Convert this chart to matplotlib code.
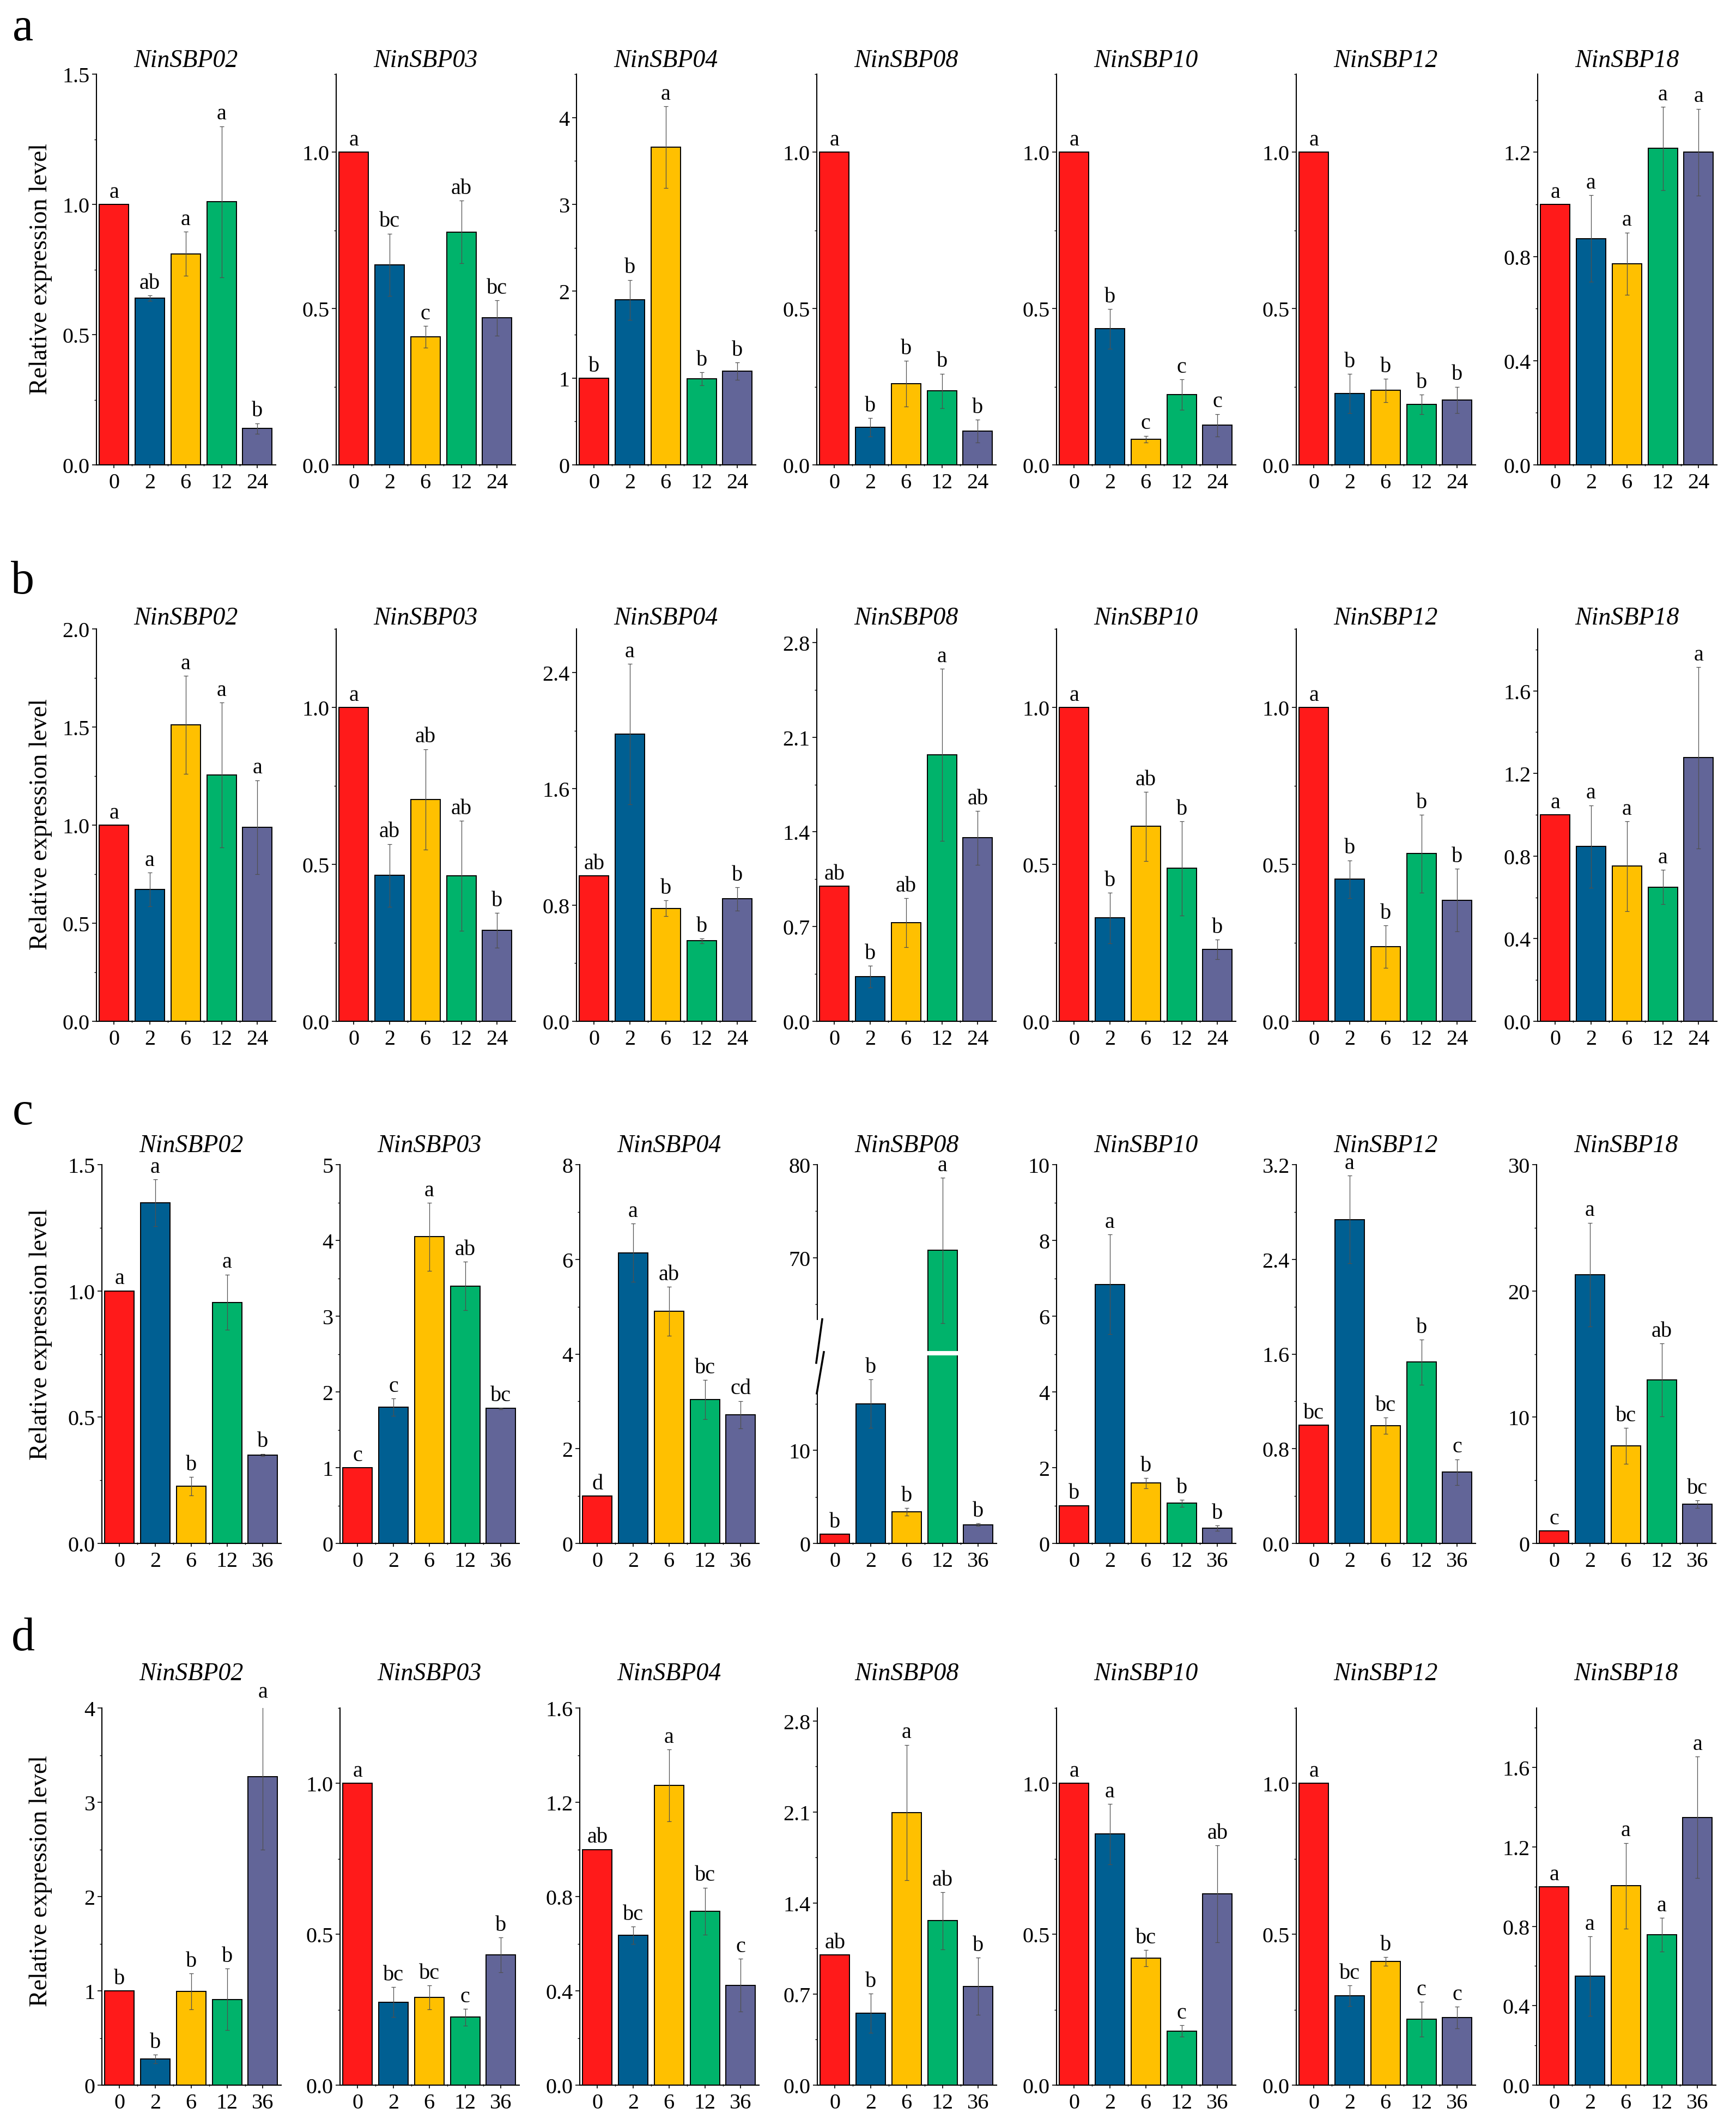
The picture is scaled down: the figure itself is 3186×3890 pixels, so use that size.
import matplotlib
matplotlib.use("Agg")
import matplotlib.pyplot as plt
from matplotlib.ticker import MultipleLocator, FormatStrFormatter, FixedLocator
from matplotlib.lines import Line2D

plt.rcParams['font.family'] = ['Liberation Serif', 'DejaVu Serif']

# ---------------- data ----------------
genes = ["NinSBP02", "NinSBP03", "NinSBP04", "NinSBP08", "NinSBP10", "NinSBP12", "NinSBP18"]
times_ab = ["0", "2", "6", "12", "24"]
times_cd = ["0", "2", "6", "12", "36"]
bar_colors = ["#FF1A1A", "#005F92", "#FFC000", "#00B36B", "#626598"]

a_mean = [[1.00, 0.64, 0.81, 1.01, 0.14],
          [1.00, 0.64, 0.41, 0.745, 0.47],
          [1.00, 1.90, 3.66, 0.99, 1.08],
          [1.00, 0.12, 0.26, 0.237, 0.108],
          [1.00, 0.435, 0.082, 0.225, 0.127],
          [1.00, 0.228, 0.238, 0.194, 0.208],
          [1.00, 0.869, 0.772, 1.215, 1.20]]
a_err = [[0, 0.01, 0.085, 0.29, 0.02],
         [0, 0.10, 0.035, 0.10, 0.056],
         [0, 0.23, 0.47, 0.075, 0.10],
         [0, 0.03, 0.073, 0.055, 0.037],
         [0, 0.064, 0.011, 0.049, 0.036],
         [0, 0.063, 0.037, 0.031, 0.042],
         [0, 0.167, 0.12, 0.16, 0.167]]
a_sig = [["a", "ab", "a", "a", "b"],
         ["a", "bc", "c", "ab", "bc"],
         ["b", "b", "a", "b", "b"],
         ["a", "b", "b", "b", "b"],
         ["a", "b", "c", "c", "c"],
         ["a", "b", "b", "b", "b"],
         ["a", "a", "a", "a", "a"]]

b_mean = [[1.00, 0.672, 1.51, 1.255, 0.989],
          [1.00, 0.465, 0.707, 0.464, 0.29],
          [1.00, 1.976, 0.777, 0.554, 0.842],
          [1.00, 0.331, 0.729, 1.969, 1.356],
          [1.00, 0.329, 0.621, 0.487, 0.229],
          [1.00, 0.453, 0.238, 0.534, 0.386],
          [1.00, 0.846, 0.751, 0.65, 1.276]]
b_err = [[0, 0.085, 0.25, 0.37, 0.24],
         [0, 0.10, 0.16, 0.175, 0.055],
         [0, 0.485, 0.055, 0.016, 0.08],
         [0, 0.08, 0.18, 0.635, 0.20],
         [0, 0.08, 0.11, 0.15, 0.031],
         [0, 0.06, 0.068, 0.124, 0.10],
         [0, 0.20, 0.217, 0.083, 0.44]]
b_sig = [["a", "a", "a", "a", "a"],
         ["a", "ab", "ab", "ab", "b"],
         ["ab", "a", "b", "b", "b"],
         ["ab", "b", "ab", "a", "ab"],
         ["a", "b", "ab", "b", "b"],
         ["a", "b", "b", "b", "b"],
         ["a", "a", "a", "a", "a"]]

c_mean = [[1.00, 1.349, 0.226, 0.955, 0.35],
          [1.00, 1.797, 4.048, 3.396, 1.783],
          [1.00, 6.14, 4.90, 3.04, 2.72],
          [1.00, 15.0, 3.4, 70.8, 2.0],
          [1.00, 6.84, 1.59, 1.06, 0.40],
          [1.00, 2.737, 0.995, 1.532, 0.601],
          [1.00, 21.3, 7.73, 12.94, 3.1]]
c_err = [[0, 0.092, 0.037, 0.11, 0.005],
         [0, 0.117, 0.45, 0.32, 0.01],
         [0, 0.62, 0.52, 0.41, 0.29],
         [0, 2.6, 0.4, 7.8, 0.15],
         [0, 1.32, 0.14, 0.09, 0.07],
         [0, 0.37, 0.07, 0.19, 0.11],
         [0, 4.1, 1.43, 2.9, 0.3]]
c_sig = [["a", "a", "b", "a", "b"],
         ["c", "c", "a", "ab", "bc"],
         ["d", "a", "ab", "bc", "cd"],
         ["b", "b", "b", "a", "b"],
         ["b", "a", "b", "b", "b"],
         ["bc", "a", "bc", "b", "c"],
         ["c", "a", "bc", "ab", "bc"]]

d_mean = [[1.00, 0.276, 0.996, 0.91, 3.27],
          [1.00, 0.275, 0.291, 0.225, 0.432],
          [1.00, 0.636, 1.271, 0.738, 0.424],
          [1.00, 0.553, 2.097, 1.264, 0.76],
          [1.00, 0.832, 0.421, 0.179, 0.634],
          [1.00, 0.296, 0.41, 0.218, 0.224],
          [1.00, 0.55, 1.004, 0.758, 1.349]]
d_err = [[0, 0.045, 0.19, 0.325, 0.77],
         [0, 0.05, 0.04, 0.028, 0.058],
         [0, 0.036, 0.153, 0.10, 0.113],
         [0, 0.15, 0.52, 0.22, 0.22],
         [0, 0.10, 0.027, 0.019, 0.16],
         [0, 0.034, 0.015, 0.058, 0.036],
         [0, 0.20, 0.216, 0.085, 0.307]]
d_sig = [["b", "b", "b", "b", "a"],
         ["a", "bc", "bc", "c", "b"],
         ["ab", "bc", "a", "bc", "c"],
         ["ab", "b", "a", "ab", "b"],
         ["a", "a", "bc", "c", "ab"],
         ["a", "bc", "b", "c", "c"],
         ["a", "a", "a", "a", "a"]]

# ---------------- layout / style ----------------
W, H = 3186, 3891
fig = plt.figure(figsize=(W / 100, H / 100), dpi=100)

x0_ab = [177, 617, 1058, 1499, 1939, 2379, 2822]
x0_cd = [187, 624, 1064, 1500, 1939, 2379, 2820]
PW = 329
row_top = [137, 1155, 2138, 3135]
row_bot = [854, 1875, 2833, 3827]
title_y = [112, 1135, 2103, 3072]
label_y = [53, 1068, 2042, 3007]
ylab_y = [494, 1513, 2449, 3452]
panel_letters = ["a", "b", "c", "d"]

F = 1.0 / 1.3889  # px -> pt at dpi 100
TICK_FS = 29
TITLE_FS = 33
SIG_FS = 29

axis_specs = [
    [(1.5, .5, .25, 1), (1.25, .5, .25, 1), (4.5, 1, .5, 0), (1.25, .5, .25, 1),
     (1.25, .5, .25, 1), (1.25, .5, .25, 1), (1.5, .4, .2, 1)],
    [(2.0, .5, .25, 1), (1.25, .5, .25, 1), (2.7, .8, .4, 1), (2.9, .7, .35, 1),
     (1.25, .5, .25, 1), (1.25, .5, .25, 1), (1.9, .4, .2, 1)],
    [(1.5, .5, .25, 1), (5, 1, .5, 0), (8, 2, 1, 0), None,
     (10, 2, 1, 0), (3.2, .8, .4, 1), (30, 10, 5, 0)],
    [(4, 1, .5, 0), (1.25, .5, .25, 1), (1.6, .4, .2, 1), (2.9, .7, .35, 1),
     (1.25, .5, .25, 1), (1.25, .5, .25, 1), (1.9, .4, .2, 1)],
]


def add_px_axes(x, top, bot, w):
    return fig.add_axes([x / W, 1 - bot / H, w / W, (bot - top) / H])


def base_style(ax, times, show_x=True):
    ax.spines['top'].set_visible(False)
    ax.spines['right'].set_visible(False)
    for s in ('left', 'bottom'):
        ax.spines[s].set_linewidth(1.5)
    ax.set_xlim(-0.49, 4.51)
    ax.tick_params(axis='y', which='major', direction='out', length=8 * F, width=1.2,
                   labelsize=TICK_FS, pad=3)
    ax.tick_params(axis='y', which='minor', direction='out', length=4 * F, width=1.0)
    if show_x:
        ax.set_xticks(range(5))
        ax.set_xticklabels(times)
        ax.xaxis.set_minor_locator(FixedLocator([0.5, 1.5, 2.5, 3.5]))
        ax.tick_params(axis='x', which='major', direction='out', length=6 * F, width=1.2,
                       labelsize=TICK_FS, pad=6)
        ax.tick_params(axis='x', which='minor', direction='inout', length=5 * F, width=1.0)
    else:
        ax.spines['bottom'].set_visible(False)
        ax.tick_params(axis='x', which='both', bottom=False, labelbottom=False)
    ax.patch.set_alpha(0)


def draw_bars(ax, means, errs):
    xs = list(range(len(means)))
    ax.bar(xs, means, width=0.82, color=bar_colors, edgecolor='black',
           linewidth=1.4, zorder=2)
    for i, (m, e) in enumerate(zip(means, errs)):
        if e > 0:
            ax.errorbar(i, m, yerr=e, fmt='none', ecolor='#505050', elinewidth=0.9,
                        capsize=3, capthick=0.9, zorder=3)


def add_sig(ax, i, m, e, s):
    ax.annotate(s, (i, m + e), xytext=(0, 3), textcoords='offset points',
                ha='center', va='bottom', fontsize=SIG_FS, zorder=4,
                annotation_clip=False)


rows = [(a_mean, a_err, a_sig, times_ab, x0_ab),
        (b_mean, b_err, b_sig, times_ab, x0_ab),
        (c_mean, c_err, c_sig, times_cd, x0_cd),
        (d_mean, d_err, d_sig, times_cd, x0_cd)]

for r, (means, errs, sigs, times, x0s) in enumerate(rows):
    top, bot = row_top[r], row_bot[r]
    for g in range(7):
        spec = axis_specs[r][g]
        x0 = x0s[g]
        if spec is not None:
            ax = add_px_axes(x0, top, bot, PW)
            base_style(ax, times)
            ymax, major, minor, dec = spec
            ax.set_ylim(0, ymax)
            ax.yaxis.set_major_locator(MultipleLocator(major))
            ax.yaxis.set_minor_locator(MultipleLocator(minor))
            ax.yaxis.set_major_formatter(FormatStrFormatter('%.' + str(dec) + 'f'))
            draw_bars(ax, means[g], errs[g])
            for i in range(5):
                add_sig(ax, i, means[g][i], errs[g][i], sigs[g][i])
        else:
            # broken y axis: 0-20.2 below, 60-80 above
            gap = 8
            total = bot - top
            lo_lim, hi_lo, hi_hi = 20.2, 60.0, 80.0
            units = lo_lim + (hi_hi - hi_lo)
            ppu = (total - gap) / units
            lo_h = lo_lim * ppu
            ax_lo = add_px_axes(x0, bot - lo_h, bot, PW)
            ax_hi = add_px_axes(x0, top, bot - lo_h - gap, PW)
            base_style(ax_lo, times)
            base_style(ax_hi, times, show_x=False)
            ax_lo.set_ylim(0, lo_lim)
            ax_hi.set_ylim(hi_lo, hi_hi)
            ax_lo.yaxis.set_major_locator(FixedLocator([0, 10]))
            ax_lo.yaxis.set_minor_locator(FixedLocator([5, 15]))
            ax_hi.yaxis.set_major_locator(FixedLocator([70, 80]))
            ax_hi.yaxis.set_minor_locator(FixedLocator([65, 75]))
            ax_lo.yaxis.set_major_formatter(FormatStrFormatter('%d'))
            ax_hi.yaxis.set_major_formatter(FormatStrFormatter('%d'))
            lo_end, hi_start = 16.1, 63.4
            ax_lo.spines['left'].set_bounds(0, lo_end)
            ax_hi.spines['left'].set_bounds(hi_start, hi_hi)
            draw_bars(ax_lo, means[g], errs[g])
            draw_bars(ax_hi, means[g], errs[g])
            for i in range(5):
                m, e = means[g][i], errs[g][i]
                target = ax_hi if m + e > hi_lo else ax_lo
                add_sig(target, i, m, e, sigs[g][i])
            # break marks
            y_lo_end = bot - lo_end * ppu
            y_hi_start = top + (hi_hi - hi_start) * ppu
            for (xa, ya, xb, yb) in [(x0 - 1, y_lo_end, x0 + 12, y_lo_end - 76),
                                     (x0 - 2, y_hi_start + 80, x0 + 9, y_hi_start)]:
                fig.add_artist(Line2D([xa / W, xb / W], [1 - ya / H, 1 - yb / H],
                                      transform=fig.transFigure, color='black', lw=2.6))
        fig.text((x0 + PW / 2) / W, 1 - title_y[r] / H, genes[g], fontsize=TITLE_FS,
                 style='italic', ha='center', va='center')
    fig.text(75 / W, 1 - ylab_y[r] / H, "Relative expression level", rotation=90,
             fontsize=33, ha='center', va='center')
    fig.text(42 / W, 1 - label_y[r] / H, panel_letters[r], fontsize=62,
             ha='center', va='center')

fig.savefig("out.png", dpi=100, facecolor='white')
